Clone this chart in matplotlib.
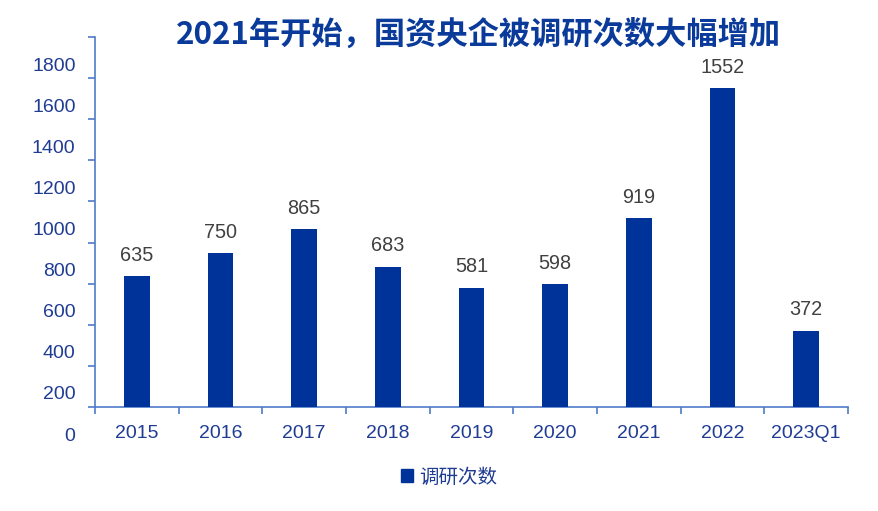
import matplotlib
matplotlib.use("Agg")
import matplotlib.pyplot as plt
from matplotlib.transforms import ScaledTranslation
from matplotlib.patches import Patch

plt.rcParams['font.family'] = ['Liberation Sans', 'Noto Sans CJK SC', 'DejaVu Sans']

categories = ['2015', '2016', '2017', '2018', '2019', '2020', '2021', '2022', '2023Q1']
values = [635, 750, 865, 683, 581, 598, 919, 1552, 372]
yticks = [0, 200, 400, 600, 800, 1000, 1200, 1400, 1600, 1800]
title = '2021年开始，国资央企被调研次数大幅增加'
legend_label = '调研次数'

bar_color = '#003399'
axis_color = '#4F7AC9'
tick_color = '#1F3C93'
value_color = '#404040'

fig = plt.figure(figsize=(8.79, 5.11), dpi=100)
ax = fig.add_axes([95/879, 1 - 407/511, (848-95)/879, (407-37)/511])

x = list(range(len(categories)))
ax.bar(x, values, width=0.31, color=bar_color, zorder=3)
for xi, v in zip(x, values):
    ax.annotate(str(v), (xi, v), xytext=(0, 8), textcoords='offset points',
                ha='center', va='bottom', fontsize=14.3, color=value_color)

ax.set_xlim(-0.5, len(categories) - 0.5)
ax.set_ylim(0, 1800)
ax.set_yticks(yticks)
ax.set_yticklabels([str(t) for t in yticks])
ax.set_xticks(x)
ax.set_xticklabels(categories)
ax.set_xticks([i - 0.5 for i in range(len(categories) + 1)], minor=True)

for s in ['top', 'right']:
    ax.spines[s].set_visible(False)
for s in ['left', 'bottom']:
    ax.spines[s].set_color(axis_color)
    ax.spines[s].set_linewidth(1.2)

ax.tick_params(axis='x', which='major', length=0, labelsize=14, labelcolor=tick_color, pad=13)
ax.tick_params(axis='x', which='minor', length=5, color=axis_color, width=1.2)
ax.tick_params(axis='y', length=5, color=axis_color, width=1.2, labelsize=14,
               labelcolor=tick_color, pad=9)

offset = ScaledTranslation(0, -0.27, fig.dpi_scale_trans)
for lab in ax.get_yticklabels():
    lab.set_transform(lab.get_transform() + offset)

fig.text(478/879, 1 - 35/511, title, ha='center', va='center', fontsize=22.5,
         fontweight='bold', color='#0A3A9A', family=['Noto Sans CJK SC', 'DejaVu Sans'])

handles = [Patch(facecolor=bar_color, edgecolor=bar_color)]
fig.legend(handles, [legend_label], loc='center', bbox_to_anchor=(449/879, 1 - 477/511),
           frameon=False, handlelength=0.6, handleheight=0.6,
           handletextpad=0.3, labelcolor=tick_color,
           prop={'family': ['Noto Sans CJK SC', 'DejaVu Sans'], 'size': 14})

fig.savefig('out.png', dpi=100)
